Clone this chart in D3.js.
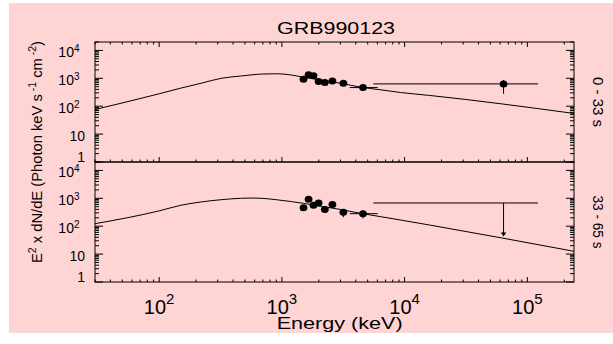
<!DOCTYPE HTML>
<html>
<head>
<meta charset="UTF8">
<title>GRB990123</title>
<script src="https://d3js.org/d3.v7.min.js"></script>
<style>
  body { margin: 0; padding: 0; background: white; }
  svg { display: block; font-family: "Liberation Sans", Arial, Helvetica, sans-serif; }
</style>
</head>
<body>
<svg id="chart"></svg>
<script>
// energy grid of the fitted model curve (keV) and E^2 dN/dE
const modelE = [30, 100, 150, 220, 320, 460, 560, 680, 900, 1200, 1500, 2100, 3000, 4400, 6400, 9300, 16000, 240000];
const model1 = [76, 279, 444, 665, 1000, 1205, 1320, 1420, 1455, 1310, 1085, 870, 665, 481, 386, 309, 243, 55];
const model2 = [123, 355, 562, 741, 891, 1000, 1023, 1000, 890, 760, 660, 513, 398, 288, 219, 166, 110, 12.6];

// BATSE / low-energy points
const ptE   = [1500, 1650, 1810, 1990, 2240, 2580, 3170, 4580];
const ptELo = [1440, 1590, 1750, 1920, 2160, 2490, 3050, 3570];
const ptEHi = [1560, 1710, 1870, 2060, 2320, 2670, 3290, 6040];
const pt1   = [920, 1340, 1235, 760, 700, 800, 665, 465];
const pt1Lo = [820, 1200, 1110, 670, 620, 710, 580, 400];
const pt1Hi = [1030, 1480, 1370, 860, 790, 900, 760, 540];
const pt2   = [454, 930, 560, 680, 395, 595, 318, 281];
const pt2Lo = [360, 820, 470, 580, 320, 500, 210, 190];
const pt2Hi = [540, 1050, 660, 790, 480, 700, 400, 360];

// high-energy channel: detection in first interval, upper limit in second
const hiE = [64000];
const hiELo = [5560];
const hiEHi = [122000];
const hi1 = [630];
const hi1Lo = [280];
const hi1Hi = [870];
const ul2 = [680];
const ul2Tip = [43];

const panelNames = ["0 - 33 s", "33 - 65 s"];
const fluxLabels = [1, 10, 100, 1000, 10000];
const energyLabels = [100, 1000, 10000, 100000];

const W = 613, H = 344;
const svg = d3.select("#chart").attr("width", W).attr("height", H);

svg.append("rect").attr("width", W).attr("height", H).attr("fill", "white");
svg.append("rect").attr("x", 9).attr("y", 3).attr("width", W - 9).attr("height", 330).attr("fill", "#ffd4d4");

const x = d3.scaleLog().domain([30, 2.4e5]).range([95, 574]);

const panels = [
  {top: 42, bottom: 162, model: model1, pts: pt1, lo: pt1Lo, hi: pt1Hi, name: panelNames[0]},
  {top: 162, bottom: 282, model: model2, pts: pt2, lo: pt2Lo, hi: pt2Hi, name: panelNames[1]}
];

const isMajor = v => Math.abs(Math.log10(v) - Math.round(Math.log10(v))) < 1e-6;

panels.forEach((p, pi) => {
  const y = d3.scaleLog().domain([1, 2e4]).range([p.bottom, p.top]);
  p.y = y;
  const g = svg.append("g");

  // frame
  g.append("rect").attr("x", x.range()[0]).attr("y", p.top)
    .attr("width", x.range()[1] - x.range()[0]).attr("height", p.bottom - p.top)
    .attr("fill", "none").attr("stroke", "black").attr("stroke-width", 1);

  // x ticks
  const xt = x.ticks();
  if (pi === 0) {
    g.selectAll(".xtt").data(xt).enter().append("line")
      .attr("x1", d => x(d)).attr("x2", d => x(d))
      .attr("y1", p.top).attr("y2", d => p.top + (isMajor(d) ? 5 : 2.5))
      .attr("stroke", "black");
  }
  g.selectAll(".xtb").data(xt).enter().append("line")
    .attr("x1", d => x(d)).attr("x2", d => x(d))
    .attr("y1", p.bottom).attr("y2", d => p.bottom - (isMajor(d) ? 5 : 2.5))
    .attr("stroke", "black");

  // y ticks both sides
  const yt = y.ticks();
  g.selectAll(".ytl").data(yt).enter().append("line")
    .attr("x1", x.range()[0]).attr("x2", d => x.range()[0] + (isMajor(d) ? 8 : 4))
    .attr("y1", d => y(d)).attr("y2", d => y(d))
    .attr("stroke", "black");
  g.selectAll(".ytr").data(yt).enter().append("line")
    .attr("x1", x.range()[1]).attr("x2", d => x.range()[1] - (isMajor(d) ? 8 : 4))
    .attr("y1", d => y(d)).attr("y2", d => y(d))
    .attr("stroke", "black");

  // y tick labels
  fluxLabels.forEach(v => {
    const e = Math.round(Math.log10(v));
    if (e >= 2) {
      const t = g.append("text").attr("y", y(v) + 6.5).attr("x", 79.5)
        .attr("text-anchor", "end").attr("font-size", 14);
      t.append("tspan").text("10");
      t.append("tspan").attr("dy", -5).attr("font-size", 10).text(e);
    } else {
      g.append("text").attr("x", 85).attr("text-anchor", "end")
        .attr("y", e === 0 ? y(v) : y(v) + 6.5)
        .attr("font-size", 14).text(v);
    }
  });

  // model curve
  const line = d3.line().x(d => x(d[0])).y(d => y(d[1])).curve(d3.curveMonotoneX);
  g.append("path").datum(d3.zip(modelE, p.model)).attr("d", line)
    .attr("fill", "none").attr("stroke", "black").attr("stroke-width", 1);

  // data points
  ptE.forEach((e, i) => {
    g.append("line").attr("x1", x(ptELo[i])).attr("x2", x(ptEHi[i]))
      .attr("y1", y(p.pts[i])).attr("y2", y(p.pts[i])).attr("stroke", "black");
    g.append("line").attr("x1", x(e)).attr("x2", x(e))
      .attr("y1", y(p.lo[i])).attr("y2", y(p.hi[i])).attr("stroke", "black");
  });
  g.selectAll(".pt").data(d3.zip(ptE, p.pts)).enter().append("ellipse")
    .attr("cx", d => x(d[0])).attr("cy", d => y(d[1]))
    .attr("rx", 3.9).attr("ry", 3.5).attr("fill", "black");

  // panel label on right
  g.append("text")
    .attr("transform", `translate(593,${(p.top + p.bottom) / 2}) rotate(90)`)
    .attr("text-anchor", "middle").attr("font-size", 15)
    .attr("textLength", pi === 0 ? 50 : 53).attr("lengthAdjust", "spacingAndGlyphs")
    .text(p.name);
});

// high-energy point, first interval
{
  const y = panels[0].y, g = svg.append("g");
  g.append("line").attr("x1", x(hiELo[0])).attr("x2", x(hiEHi[0]))
    .attr("y1", y(hi1[0])).attr("y2", y(hi1[0])).attr("stroke", "black");
  g.append("line").attr("x1", x(hiE[0])).attr("x2", x(hiE[0]))
    .attr("y1", y(hi1Lo[0])).attr("y2", y(hi1Hi[0])).attr("stroke", "black");
  g.append("ellipse").attr("cx", x(hiE[0])).attr("cy", y(hi1[0]))
    .attr("rx", 3.9).attr("ry", 3.5).attr("fill", "black");
}
// upper limit, second interval
{
  const y = panels[1].y, g = svg.append("g");
  g.append("line").attr("x1", x(hiELo[0])).attr("x2", x(hiEHi[0]))
    .attr("y1", y(ul2[0])).attr("y2", y(ul2[0])).attr("stroke", "black");
  g.append("line").attr("x1", x(hiE[0])).attr("x2", x(hiE[0]))
    .attr("y1", y(ul2[0])).attr("y2", y(ul2Tip[0]) - 3).attr("stroke", "black");
  const ax = x(hiE[0]), ay = y(ul2Tip[0]);
  g.append("path").attr("d", `M${ax - 2.7},${ay - 4} L${ax + 2.7},${ay - 4} L${ax},${ay} Z`)
    .attr("fill", "black");
}

// x tick labels
energyLabels.forEach(v => {
  const t = svg.append("text").attr("x", x(v)).attr("y", 313.5)
    .attr("text-anchor", "middle").attr("font-size", 20);
  t.append("tspan").text("10");
  t.append("tspan").attr("dy", -10).attr("font-size", 15).text(Math.round(Math.log10(v)));
});

// axis titles
svg.append("text").attr("x", 339.7).attr("y", 329).attr("text-anchor", "middle")
  .attr("font-size", 17).attr("textLength", 126).attr("lengthAdjust", "spacingAndGlyphs")
  .text("Energy (keV)");

const yt = svg.append("text").attr("transform", "translate(41.5,152) rotate(-90)")
  .attr("text-anchor", "middle").attr("font-size", 14)
  .attr("textLength", 222).attr("lengthAdjust", "spacingAndGlyphs");
yt.append("tspan").text("E");
yt.append("tspan").attr("dy", -6).attr("font-size", 10).text("2");
yt.append("tspan").attr("dy", 6).text(" x dN/dE (Photon keV s");
yt.append("tspan").attr("dy", -6).attr("font-size", 10).text(" -1");
yt.append("tspan").attr("dy", 6).text(" cm");
yt.append("tspan").attr("dy", -6).attr("font-size", 10).text(" -2");
yt.append("tspan").attr("dy", 6).text(")");

svg.append("text").attr("x", 336).attr("y", 34).attr("text-anchor", "middle")
  .attr("font-size", 17).attr("textLength", 118).attr("lengthAdjust", "spacingAndGlyphs")
  .text("GRB990123");
</script>
</body>
</html>
